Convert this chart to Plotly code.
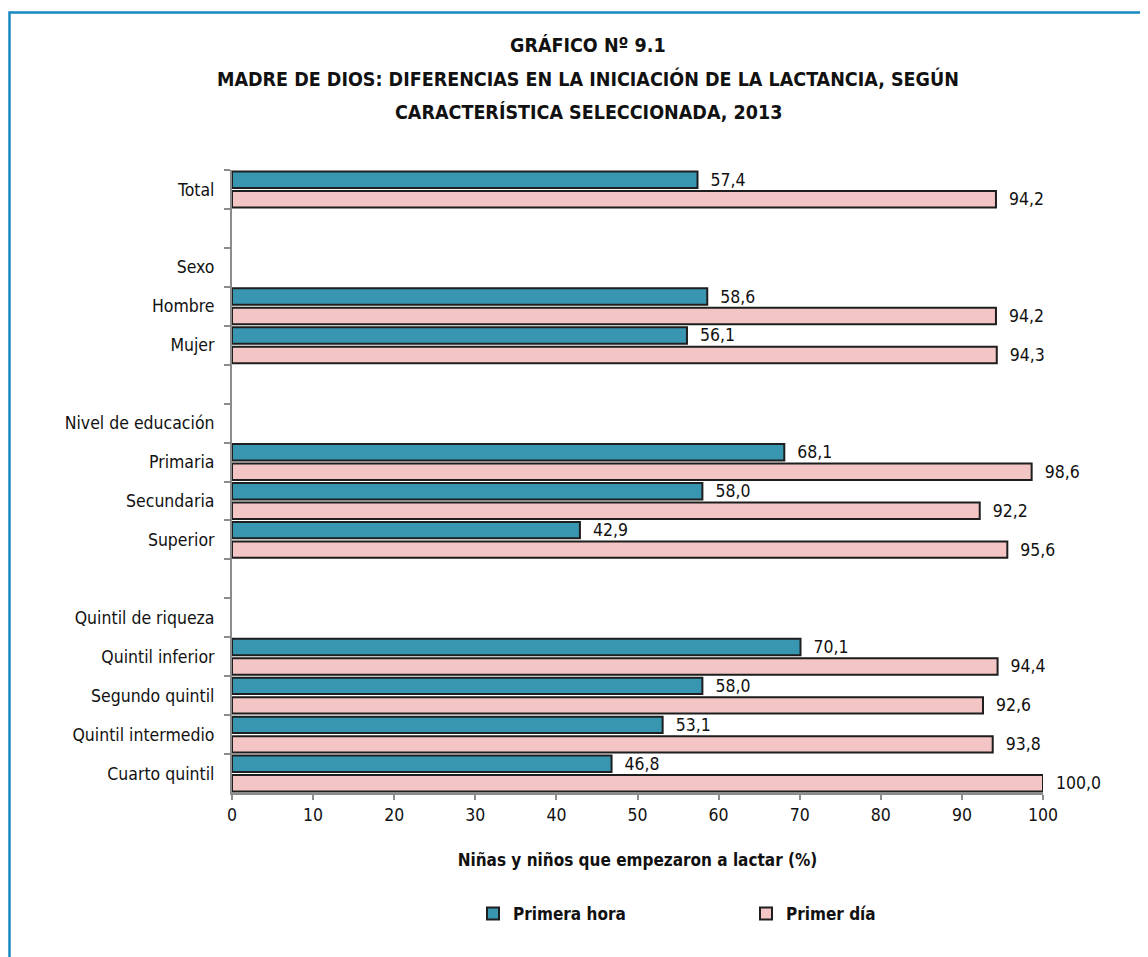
import plotly.graph_objects as go

categories = ["Total", " ", "Sexo", "Hombre", "Mujer", "  ", "Nivel de educación",
              "Primaria", "Secundaria", "Superior", "   ", "Quintil de riqueza",
              "Quintil inferior", "Segundo quintil", "Quintil intermedio", "Cuarto quintil"]
primera_hora = [57.4, None, None, 58.6, 56.1, None, None, 68.1, 58.0, 42.9, None, None,
                70.1, 58.0, 53.1, 46.8]
primer_dia = [94.2, None, None, 94.2, 94.3, None, None, 98.6, 92.2, 95.6, None, None,
              94.4, 92.6, 93.8, 100.0]
x_ticks = list(range(0, 101, 10))

FONT = "Liberation Sans Narrow, Arial Narrow, DejaVu Sans Condensed, sans-serif"

def fmt(vals):
    return ["" if v is None else "  " + f"{v:.1f}".replace(".", ",") for v in vals]

# page body has an 8px margin; work in reference pixel coordinates and shift
OFF = 8
W, H = 1148 - OFF, 957 - OFF
L, R, T, B = 232 - OFF, 1043 - OFF, 170 - OFF, 793 - OFF

def px(x):
    return (x - OFF - L) / (R - L)

def py(y):
    return (B - (y - OFF)) / (B - T)

fig = go.Figure()
fig.add_trace(go.Bar(y=categories, x=primera_hora, orientation="h", name="Primera hora",
                     marker=dict(color="#3896B0", line=dict(color="#1E1E1E", width=2)),
                     text=fmt(primera_hora), textposition="outside", constraintext="none",
                     cliponaxis=False, textfont=dict(family=FONT, size=17.5, color="#111")))
fig.add_trace(go.Bar(y=categories, x=primer_dia, orientation="h", name="Primer día",
                     marker=dict(color="#F3C5C5", line=dict(color="#1E1E1E", width=2)),
                     text=fmt(primer_dia), textposition="outside", constraintext="none",
                     cliponaxis=False, textfont=dict(family=FONT, size=17.5, color="#111")))

fig.update_layout(
    width=W, height=H,
    margin=dict(l=L, r=W - R, t=T, b=H - B, autoexpand=False),
    paper_bgcolor="white", plot_bgcolor="white",
    barmode="group", bargap=0.0, bargroupgap=0.16,
    font=dict(family=FONT, size=17.5, color="#111"),
    showlegend=True,
    legend=dict(orientation="h", x=px(473), y=py(914), xanchor="left", yanchor="middle",
                entrywidth=228, entrywidthmode="pixels", itemwidth=30,
                font=dict(family=FONT, size=17, color="#111", weight="bold")),
    xaxis=dict(range=[0, 100], tickvals=x_ticks, showgrid=False, zeroline=False,
               showline=True, linecolor="#8C8C8C", linewidth=2,
               ticks="outside", ticklen=5, tickcolor="#8C8C8C", tickwidth=2,
               tickfont=dict(family=FONT, size=17.5, color="#111"),
               title=dict(text="<b>Niñas y niños que empezaron a lactar (%)</b>",
                          font=dict(family=FONT, size=17, color="#111"), standoff=30)),
    yaxis=dict(categoryorder="array", categoryarray=categories, autorange="reversed",
               showgrid=False, zeroline=False, showline=True, linecolor="#8C8C8C", linewidth=2,
               ticks="outside", ticklen=6, tickcolor="#8C8C8C", tickwidth=2,
               tickson="boundaries", ticklabelstandoff=12,
               tickfont=dict(family=FONT, size=17.5, color="#111")),
)

titles = ["GRÁFICO Nº 9.1",
          "MADRE DE DIOS: DIFERENCIAS EN LA INICIACIÓN DE LA LACTANCIA, SEGÚN",
          "CARACTERÍSTICA SELECCIONADA, 2013"]
for t, yy in zip(titles, [45, 79, 113]):
    fig.add_annotation(text=f"<b>{t}</b>", xref="paper", yref="paper", x=px(588), y=py(yy),
                       xanchor="center", yanchor="middle", showarrow=False,
                       font=dict(family=FONT, size=19.5, color="#111"))

# frame border
fig.add_shape(type="rect", xref="paper", yref="paper", x0=px(9.5), x1=px(1175),
              y0=py(12.5), y1=py(995), line=dict(color="#1889C0", width=2.5),
              fillcolor="rgba(0,0,0,0)", layer="below")

fig.write_html("out.html")
